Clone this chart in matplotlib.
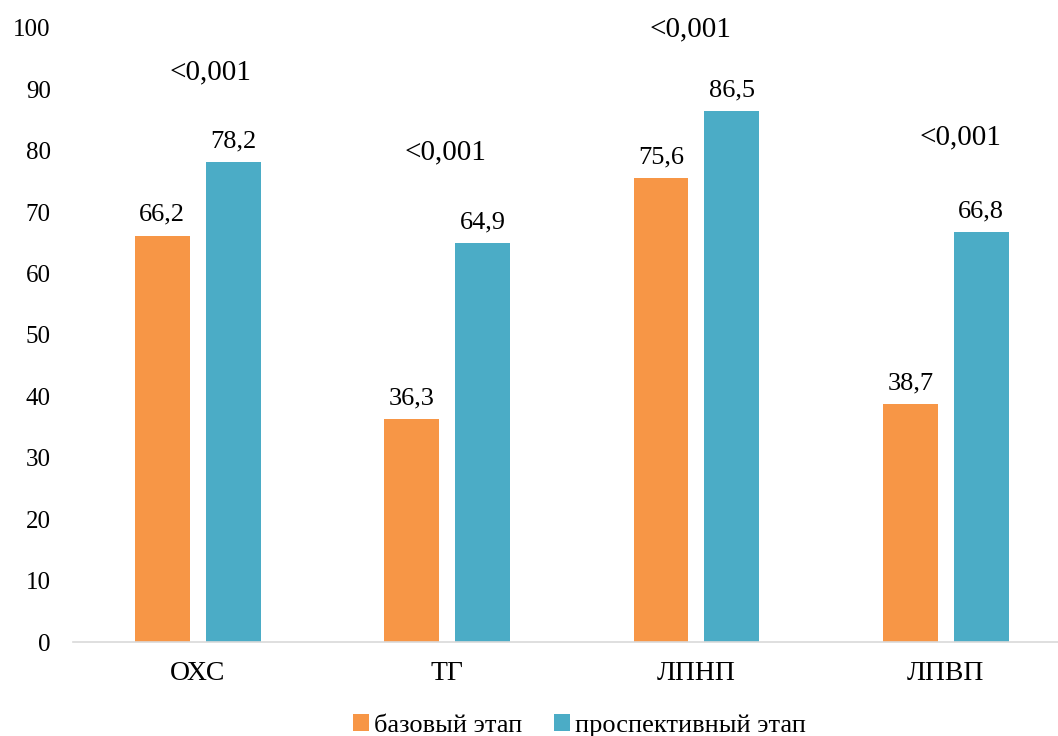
import matplotlib.pyplot as plt
import numpy as np

plt.rcParams['font.family'] = ['Liberation Serif', 'DejaVu Serif']

categories = ['ОХС', 'ТГ', 'ЛПНП', 'ЛПВП']
base = [66.2, 36.3, 75.6, 38.7]
prosp = [78.2, 64.9, 86.5, 66.8]
p_labels = ['<0,001', '<0,001', '<0,001', '<0,001']
p_heights = [92.8, 79.8, 99.7, 82.2]

c_base = '#F79646'
c_prosp = '#4BACC6'

fig = plt.figure(figsize=(10.58, 7.36), dpi=100)
ax = fig.add_axes([0.069, 0.1277, 0.931, 0.8343])

x = np.arange(len(categories))
w = 0.22
off = 0.142
ax.bar(x - off, base, w, color=c_base, label='базовый этап')
ax.bar(x + off, prosp, w, color=c_prosp, label='проспективный этап')

for xi, v in zip(x, base):
    ax.text(xi - off, v + 1.6, f'{v:.1f}'.replace('.', ','), ha='center', va='bottom', fontsize=19)
for xi, v in zip(x, prosp):
    ax.text(xi + off, v + 1.6, f'{v:.1f}'.replace('.', ','), ha='center', va='bottom', fontsize=19)

p_shift = [0.052, -0.005, -0.022, 0.06]
for xi, s, t, h in zip(x, p_shift, p_labels, p_heights):
    ax.text(xi + s, h, t, ha='center', va='center', fontsize=21)

ax.set_xlim(-0.5, 3.45)
ax.set_ylim(0, 100)
ax.set_yticks(range(0, 101, 10))
ax.set_xticks(x)
ax.set_xticklabels(categories, fontsize=20)
ax.tick_params(axis='y', length=0, labelsize=18, pad=16)
ax.tick_params(axis='x', length=0, pad=14)
for s in ['top', 'right', 'left']:
    ax.spines[s].set_visible(False)
ax.spines['bottom'].set_color('#D9D9D9')
ax.spines['bottom'].set_linewidth(1.2)

fig.legend(loc='lower center', bbox_to_anchor=(0.548, -0.033), ncol=2, frameon=False,
           fontsize=19, handlelength=0.6, handleheight=0.6, handletextpad=0.2, columnspacing=1.2)

fig.savefig('out.png', dpi=100)
